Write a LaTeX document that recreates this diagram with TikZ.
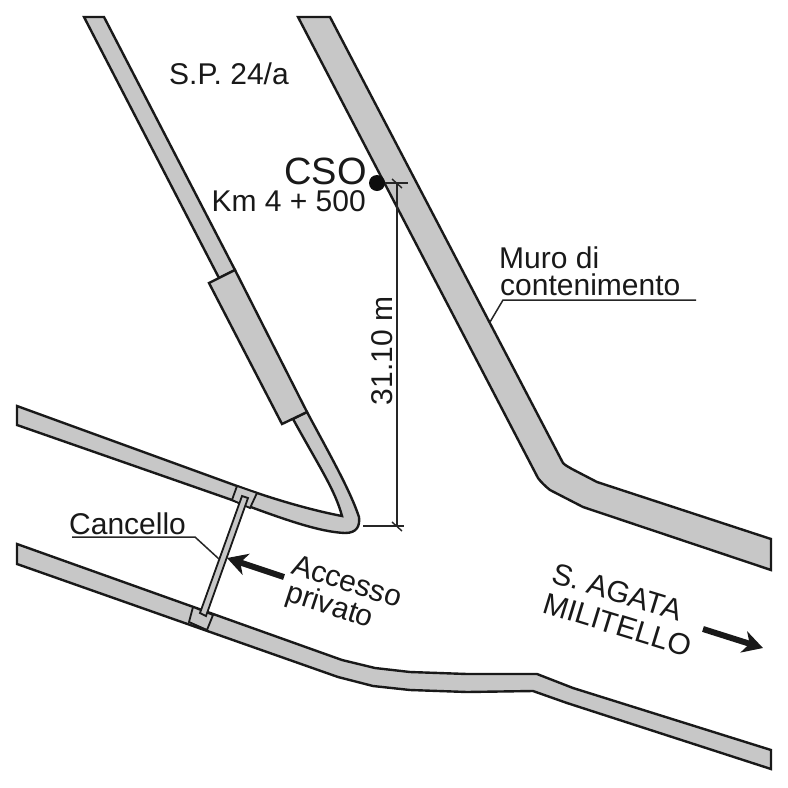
\documentclass[tikz,border=0pt]{standalone}
\usepackage{fontspec}
\setmainfont{Liberation Sans}
\usetikzlibrary{arrows.meta}
\tikzset{
  road/.style={draw=black!90,fill=black!22,line width=2.4pt,line join=miter},
  thin/.style={draw=black!85,line width=1.1pt},
  lab/.style={inner sep=0pt,text=black!90,font=\fontsize{30}{33}\selectfont},
  bigarrow/.style={draw=black!90,line width=6pt,-{Stealth[length=20pt,width=22pt,inset=6pt]}}
}
\begin{document}
\begin{tikzpicture}[x=1pt,y=-1pt]
\useasboundingbox (0,0) rectangle (788,788);
\fill[white] (0,0) rectangle (788,788);
% upper left road with wide segment
\draw[road] (84,17) -- (104,17) -- (235,270) -- (219,278) -- cycle;
\draw[road] (17,406) -- (237,486) .. controls (270,498) and (310,510) .. (342,516)
  .. controls (335,490) and (320,468) .. (293,419) -- (307,412)
  .. controls (330,455) and (350,490) .. (359,517)
  .. controls (360,526) and (357,533) .. (345,533)
  .. controls (320,532) and (285,520) .. (232,500) -- (17,425) -- cycle;
\draw[road] (235,270) -- (307,412) -- (282,424) -- (209,283) -- cycle;
\draw[road,line width=1.8pt] (237,486) -- (257,493) -- (250,508) -- (232,500) -- cycle;
% lower road
\draw[road] (17,544) -- (342,660) -- (375,668) -- (410,672) -- (467,674)
  -- (537,674) -- (573,688) -- (771,750) -- (771,769) -- (567,703) -- (533,691) -- (467,692) -- (410,690)
  -- (373,686) -- (338,677) -- (17,564) -- cycle;
\draw[road,line width=1.8pt] (193,607) -- (213,615) -- (207,630) -- (189,622) -- cycle;
% gate
\draw[road,line width=1.8pt] (242,496) -- (248,498) -- (206,616) -- (200,613) -- cycle;
% retaining wall
\draw[road] (298,17) -- (330,17) -- (563,463) .. controls (566,466) and (569,467) .. (572,469)
  -- (597,482) -- (771,539) -- (771,570) -- (583,507) -- (550,490)
  .. controls (545,486) and (541,482) .. (538,478) -- cycle;
% dimension
\coordinate (dimtopL) at (384,183);
\coordinate (dimtopR) at (408,183);
\coordinate (dimbotL) at (363,526);
\coordinate (dimbotR) at (404,526);
\coordinate (dimA) at (397,183);
\coordinate (dimB) at (397,526);
\draw[thin] (dimtopL) -- (dimtopR);
\draw[thin] (dimbotL) -- (dimbotR);
\draw[thin] (dimA) -- (dimB);
\draw[thin,line width=1.4pt] (392,179) -- (402,188);
\draw[thin,line width=1.4pt] (392,522) -- (402,531);
\node[circle,fill=black!95,minimum size=16pt,inner sep=0pt] (cso) at (377,183) {};
% texts
\node[lab,anchor=base west] (sp) at (169,84) {S.P. 24/a};
\node[lab,anchor=base east,font=\fontsize{38}{40}\selectfont] (csot) at (367,184) {CSO};
\node[lab,anchor=base east] (km) at (366,211) {Km 4 + 500};
\node[lab,anchor=base west] (muro) at (499,268) {Muro di};
\node[lab,anchor=base west] (cont) at (500,295) {contenimento};
\node[lab,anchor=center,rotate=90] (dim) at (382,351) {31.10 m};
\node[lab,anchor=base west] (canc) at (69,534) {Cancello};
\node[lab,anchor=base west,rotate=-18] (acc) at (290,573) {Accesso};
\node[lab,anchor=base west,rotate=-18] (priv) at (284,600) {privato};
\node[lab,anchor=base west,rotate=-17] (sag) at (550,582) {S. AGATA};
\node[lab,anchor=base west,rotate=-17] (mil) at (541,612) {MILITELLO};
% leaders
\coordinate (m0) at (696,300);
\coordinate (m1) at (503,300);
\coordinate (m2) at (490,322);
\draw[thin,line width=1.5pt] (m0) -- (m1) -- (m2);
\coordinate (c0) at (72,537);
\coordinate (c1) at (195,537);
\coordinate (c2) at (219,559);
\draw[thin,line width=1.5pt] (c0) -- (c1) -- (c2);
% arrows
\coordinate (a0) at (284,577);
\coordinate (a1) at (227,558);
\coordinate (b0) at (703,629);
\coordinate (b1) at (763,648);
\draw[bigarrow] (a0) -- (a1);
\draw[bigarrow] (b0) -- (b1);
\end{tikzpicture}
\end{document}
